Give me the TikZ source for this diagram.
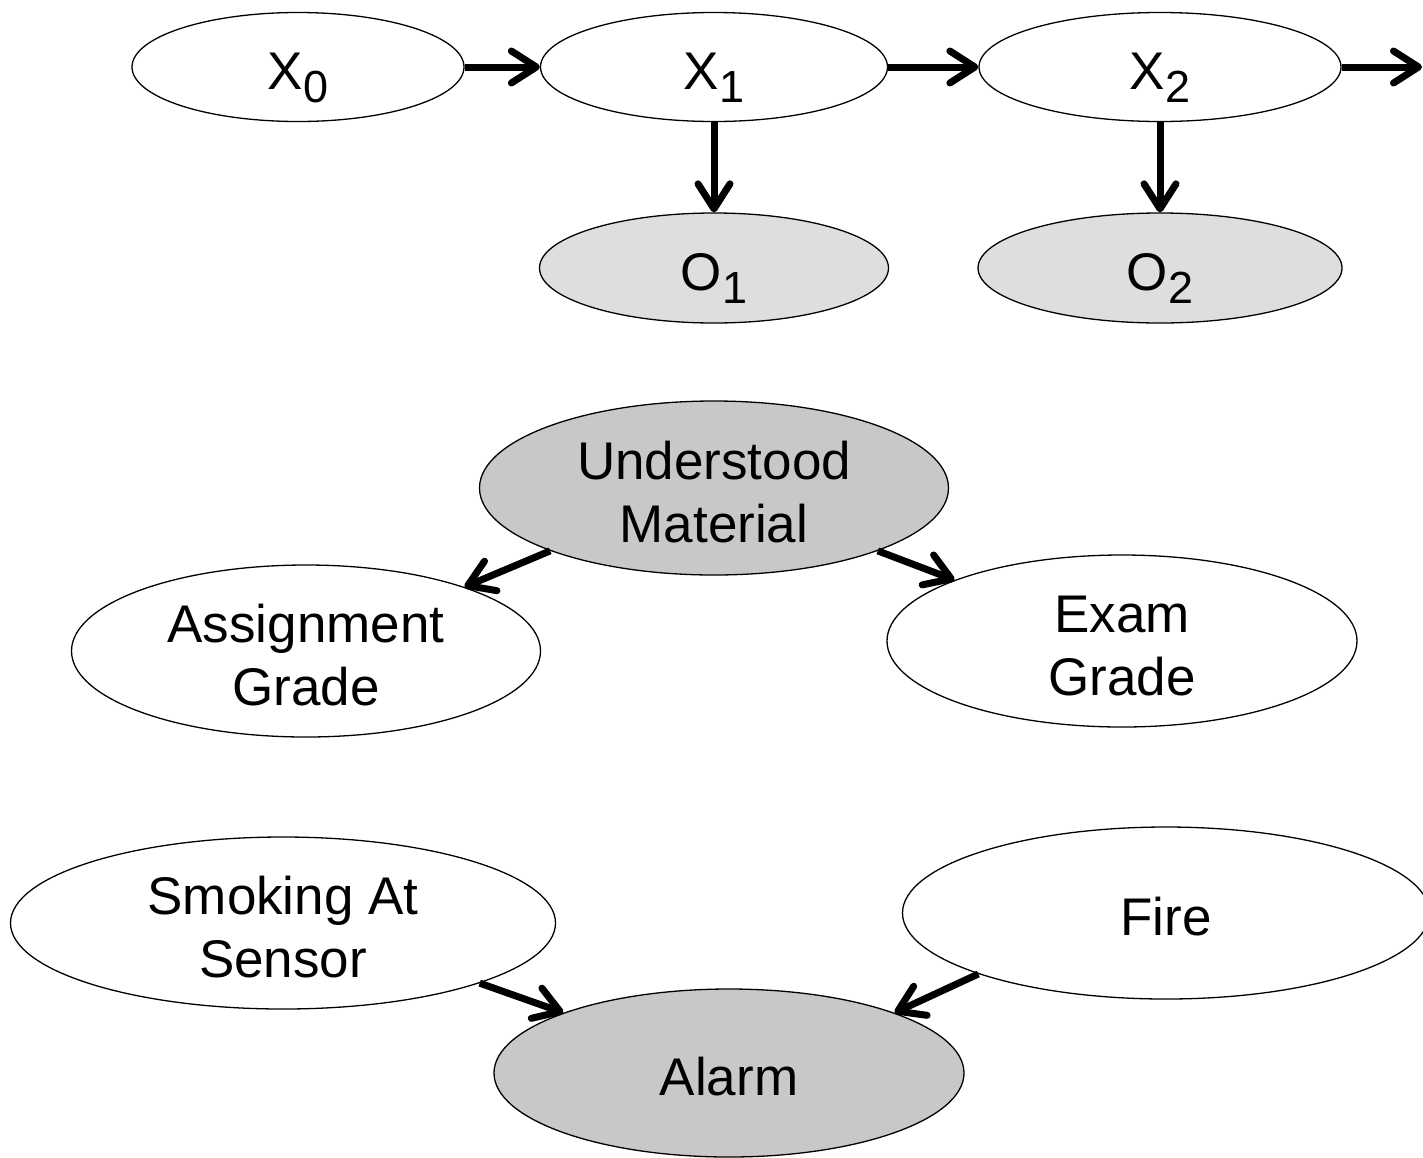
\documentclass[tikz,border=0pt]{standalone}
\usepackage{fontspec}
\setmainfont{Liberation Sans}
\usetikzlibrary{shapes.geometric,arrows.meta}
\definecolor{obsfill}{HTML}{DEDEDE}
\definecolor{evfill}{HTML}{C8C8C8}
\tikzset{
  var/.style={ellipse, draw=black, line width=1.3pt, fill=white, inner sep=0pt,
    font=\fontsize{53}{62.5}\selectfont, align=center,
    text height=45pt, text depth=0pt},
  twoline/.style={text height=108pt},
  obs/.style={var, fill=obsfill},
  ev/.style={var, fill=evfill},
  link/.style={line width=7pt,
    -{Straight Barb[length=25pt,width=32pt,line width=7pt,round]}},
}
% variable name with a large lowered index
\newcommand{\varsub}[2]{#1\raisebox{-12.7pt}{\fontsize{45}{45}\selectfont #2}}
\begin{document}
\begin{tikzpicture}[x=1pt,y=-1pt]
\useasboundingbox (0,0) rectangle (1423,1157);

% hidden Markov chain
\node[var, minimum width=332pt, minimum height=109pt] (x0) at (298,67) {\varsub{X}{0}};
\node[var, minimum width=347pt, minimum height=109pt] (x1) at (714,67) {\varsub{X}{1}};
\node[var, minimum width=362pt, minimum height=109pt] (x2) at (1160,67) {\varsub{X}{2}};
\node[obs, minimum width=349pt, minimum height=110pt] (o1) at (714,268) {\varsub{O}{1}};
\node[obs, minimum width=364pt, minimum height=110pt] (o2) at (1160,268) {\varsub{O}{2}};
\coordinate (xnext) at (1422,67);

% common cause
\node[ev, twoline, minimum width=469pt, minimum height=174pt] (um) at (714,488) {Understood\\Material};
\node[var, twoline, minimum width=469pt, minimum height=172pt] (ag) at (306,651) {Assignment\\Grade};
\node[var, twoline, minimum width=470pt, minimum height=172pt] (eg) at (1122,641) {Exam\\Grade};

% common effect
\node[var, twoline, minimum width=545pt, minimum height=172pt] (ss) at (283,923) {Smoking At\\Sensor};
\node[var, minimum width=527pt, minimum height=172pt] (fi) at (1166,913) {Fire};
\node[ev, minimum width=470pt, minimum height=168pt] (al) at (729,1073) {Alarm};

% edges
\draw[link] (x0.east) -- (x1.west);
\draw[link] (x1.east) -- (x2.west);
\draw[link] (x2.east) -- (xnext);
\draw[link] (x1.south) -- (o1.north);
\draw[link] (x2.south) -- (o2.north);
\draw[link] (um.201) -- (ag.22);
\draw[link] (um.339) -- (eg.160);
\draw[link] (ss.343) -- (al.160);
\draw[link] (fi.198) -- (al.20);
\end{tikzpicture}
\end{document}
